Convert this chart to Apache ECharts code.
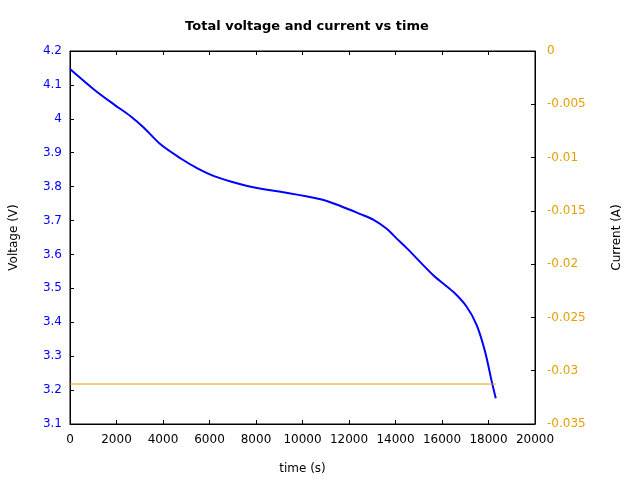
<!DOCTYPE html>
<html>
<head>
<meta charset="utf-8">
<script src="https://cdn.jsdelivr.net/npm/echarts@6/dist/echarts.min.js"></script>
<style>html,body{margin:0;padding:0;background:#fff}#c{width:640px;height:480px}</style>
</head>
<body>
<div id="c"></div>
<script>
const timeS = [0, 1043, 1901, 2618, 3190, 3906, 4764, 5481, 6195, 6910, 7627, 8340, 9056, 10773, 11631, 12489, 13061, 13635, 14064, 14494, 15636, 16495, 17068, 17497, 17854, 18140, 18313];
const voltage = [4.147, 4.086, 4.042, 4.007, 3.973, 3.924, 3.883, 3.854, 3.831, 3.815, 3.802, 3.792, 3.785, 3.763, 3.743, 3.719, 3.702, 3.675, 3.646, 3.618, 3.538, 3.489, 3.445, 3.391, 3.313, 3.225, 3.176];
const currentTime = [0, 18313];
const current = [-0.03125, -0.03125];

const chart = echarts.init(document.getElementById('c'));
const font = 'DejaVu Sans';
function tick() { return {show: true, inside: true, length: 4, lineStyle: {color: '#000', width: 1}}; }
function line() { return {show: true, onZero: false, lineStyle: {color: '#000', width: 1}}; }
function fmt(v) { return String(Math.round(v * 100000) / 100000); }
chart.setOption({
  animation: false,
  textStyle: {fontFamily: font},
  title: {
    text: 'Total voltage and current vs time',
    left: 302, top: 15, textAlign: 'center',
    textStyle: {fontFamily: font, fontSize: 13, fontWeight: 'bold', color: '#000'}
  },
  grid: {left: 69, right: 105, top: 51, bottom: 54, show: true, borderColor: '#000', borderWidth: 1},
  xAxis: [{
    type: 'value', min: 0, max: 20000, interval: 2000, position: 'bottom',
    name: 'time (s)', nameLocation: 'middle', nameGap: 39,
    nameTextStyle: {fontFamily: font, fontSize: 12, color: '#000'},
    axisLine: line(),
    axisTick: tick(),
    axisLabel: {fontFamily: font, fontSize: 12, color: '#000', margin: 10, formatter: fmt},
    splitLine: {show: false}
  }, {
    type: 'value', min: 0, max: 20000, interval: 2000, position: 'top',
    axisLine: line(),
    axisTick: tick(),
    axisLabel: {show: false},
    splitLine: {show: false}
  }],
  yAxis: [{
    type: 'value', min: 3.1, max: 4.2, interval: 0.1, position: 'left',
    name: 'Voltage (V)', nameLocation: 'middle', nameRotate: 90, nameGap: 50,
    nameTextStyle: {fontFamily: font, fontSize: 12, color: '#000'},
    axisLine: line(),
    axisTick: tick(),
    axisLabel: {fontFamily: font, fontSize: 12, color: '#0000ff', margin: 8, formatter: fmt},
    splitLine: {show: false}
  }, {
    type: 'value', min: -0.035, max: 0, interval: 0.005, position: 'right',
    name: 'Current (A)', nameLocation: 'middle', nameRotate: 90, nameGap: 76,
    nameTextStyle: {fontFamily: font, fontSize: 12, color: '#000'},
    axisLine: line(),
    axisTick: tick(),
    axisLabel: {fontFamily: font, fontSize: 12, color: '#e69f00', margin: 12, formatter: fmt},
    splitLine: {show: false}
  }],
  series: [{
    type: 'line', xAxisIndex: 0, yAxisIndex: 0,
    data: timeS.map((t, i) => [t, voltage[i]]),
    smooth: 0.3, showSymbol: false,
    lineStyle: {color: '#0000ff', width: 2}
  }, {
    type: 'line', xAxisIndex: 0, yAxisIndex: 1,
    data: currentTime.map((t, i) => [t, current[i]]),
    showSymbol: false,
    lineStyle: {color: '#e69f00', width: 1}
  }]
});
</script>
</body>
</html>
